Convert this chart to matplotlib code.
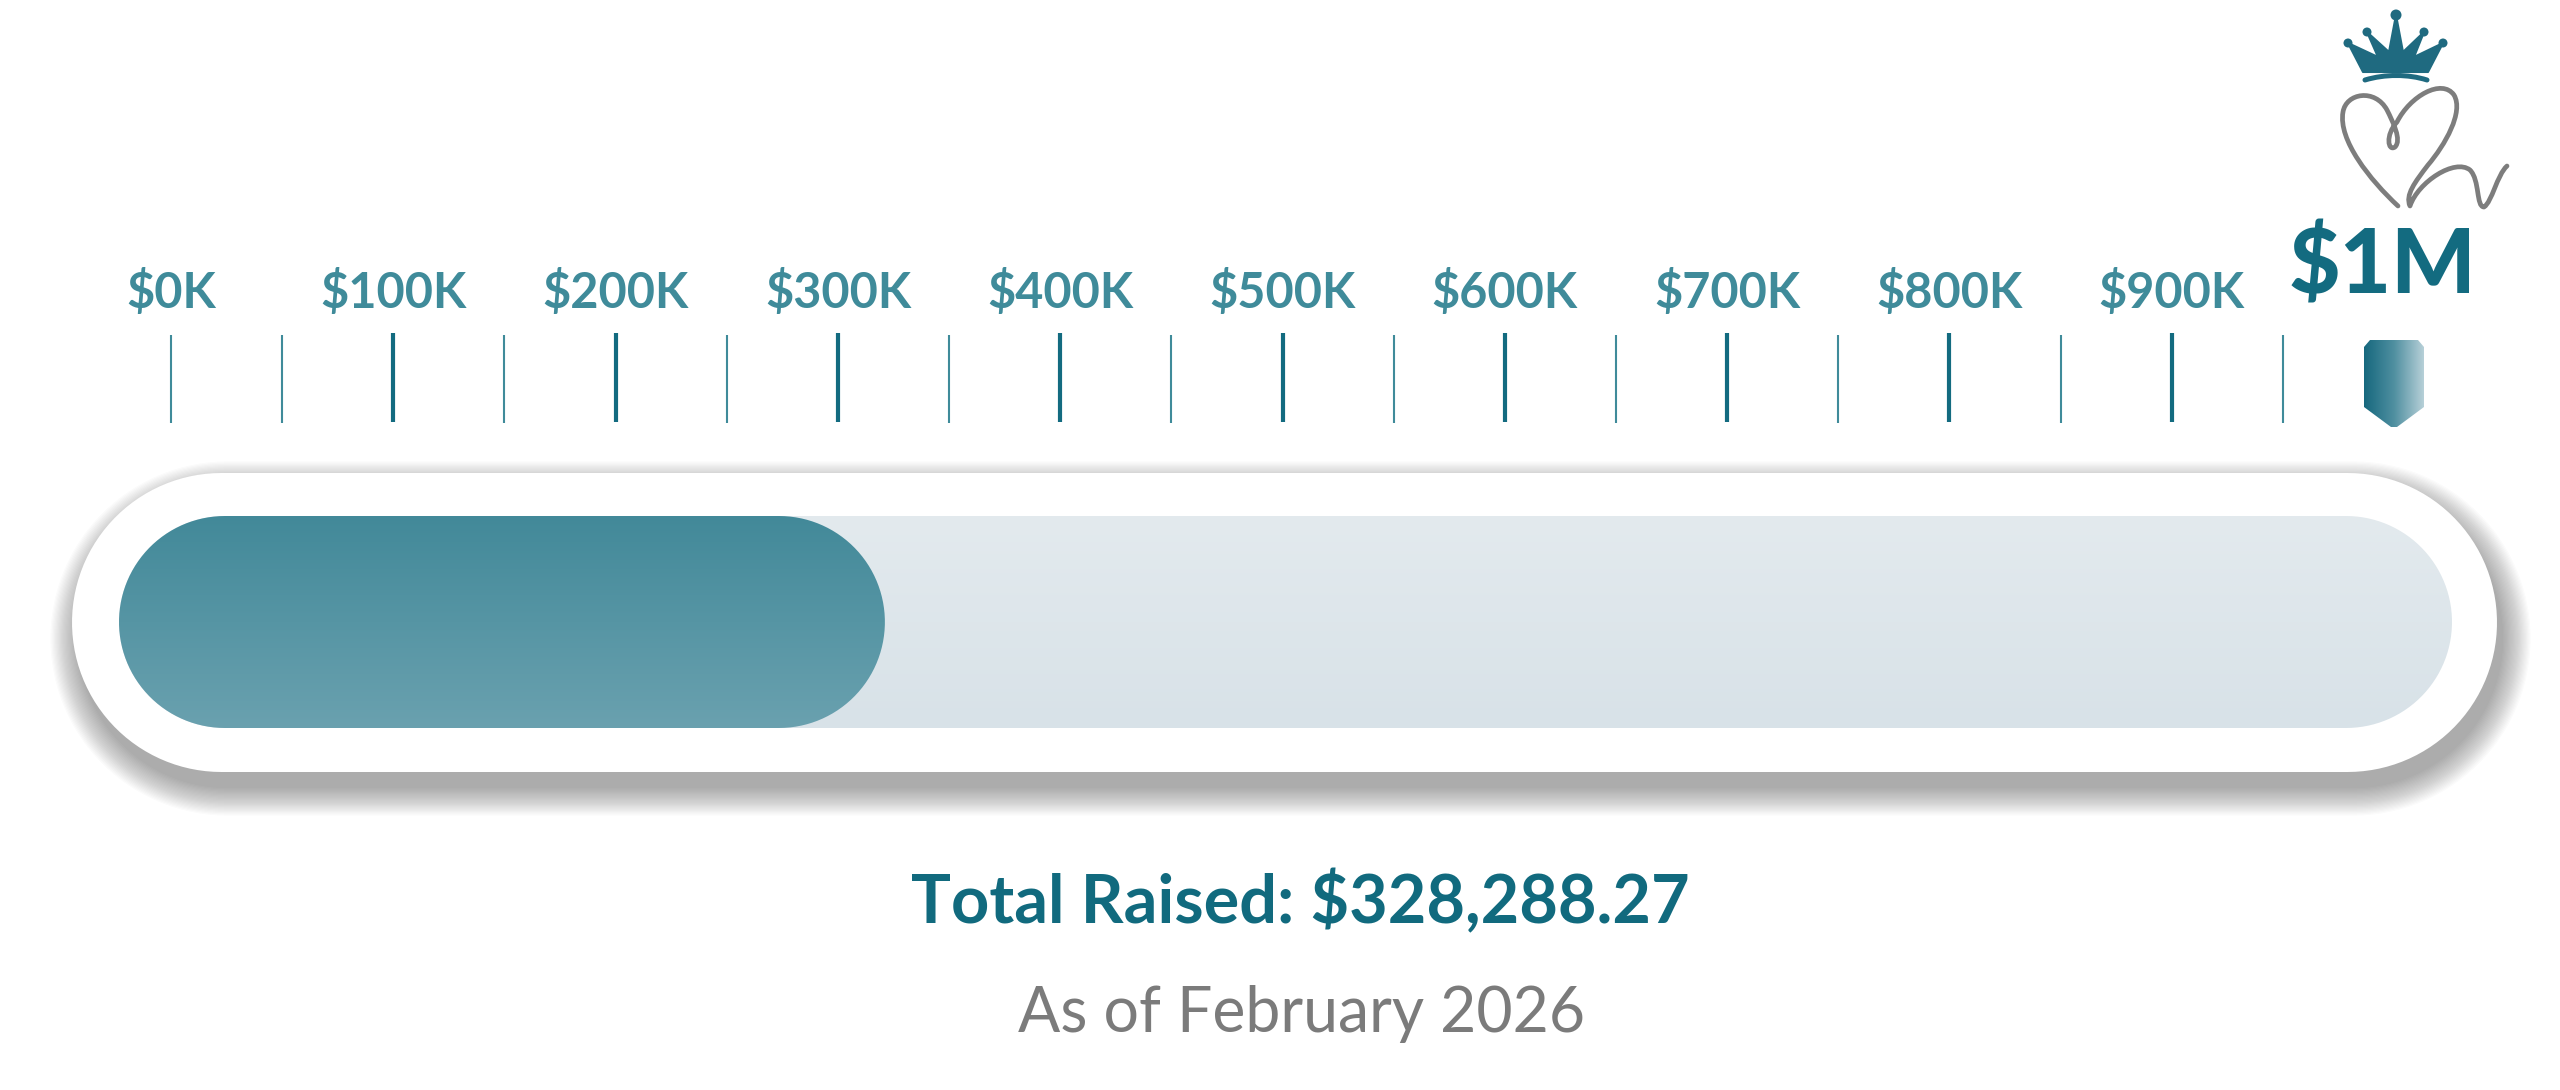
import numpy as np
import matplotlib
matplotlib.use("Agg")
import matplotlib.pyplot as plt
from matplotlib.patches import Polygon, PathPatch, Circle
from matplotlib.path import Path
from matplotlib.colors import LinearSegmentedColormap

# data
goal = 1_000_000
total_raised = 328288.27
label_values = [0, 100_000, 200_000, 300_000, 400_000, 500_000, 600_000, 700_000, 800_000, 900_000]
tick_labels = ["$0K", "$100K", "$200K", "$300K", "$400K", "$500K", "$600K", "$700K", "$800K", "$900K"]
major_ticks = [100_000, 200_000, 300_000, 400_000, 500_000, 600_000, 700_000, 800_000, 900_000]
minor_ticks = [0, 50_000, 150_000, 250_000, 350_000, 450_000, 550_000, 650_000, 750_000, 850_000, 950_000]
goal_label = "$1M"
title = "Total Raised: $328,288.27"
subtitle = "As of February 2026"

# colours
TEAL_DARK = "#136b80"
TEAL_LIGHT = "#3f8b9a"
GREY = "#7b7b7b"

W, H = 2560, 1090
plt.rcParams['font.family'] = ['Lato', 'DejaVu Sans']

fig = plt.figure(figsize=(W / 100, H / 100), dpi=100)


def px_axes(x0, y0, x1, y1):
    # axes placed by pixel box (top-left origin)
    a = fig.add_axes([x0 / W, 1 - y1 / H, (x1 - x0) / W, (y1 - y0) / H])
    a.axis("off")
    return a


def pill(x0, x1, yc, rx, ry, n=60):
    t = np.linspace(-np.pi / 2, np.pi / 2, n)
    right = np.column_stack([x1 - rx + rx * np.cos(t), yc + ry * np.sin(t)])
    t2 = np.linspace(np.pi / 2, 3 * np.pi / 2, n)
    left = np.column_stack([x0 + rx + rx * np.cos(t2), yc + ry * np.sin(t2)])
    return np.vstack([right, left])


# background layer in pixel coordinates
ax_bg = fig.add_axes([0, 0, 1, 1])
ax_bg.set_xlim(0, W)
ax_bg.set_ylim(H, 0)
ax_bg.axis("off")

# soft shadow + white outer capsule
ox0, ox1, oy0, oy1 = 72, 2497, 473, 772
oyc, orr = (oy0 + oy1) / 2, (oy1 - oy0) / 2
for i in range(24):
    e = i * 1.2
    ax_bg.add_patch(Polygon(pill(ox0 - e + 6, ox1 + e + 6, oyc + 16, orr + e, orr + e),
                            closed=True, facecolor="#3a3a3a", edgecolor="none", alpha=0.018))
ax_bg.add_patch(Polygon(pill(ox0, ox1, oyc, orr, orr), closed=True, facecolor="white",
                        edgecolor="none"))

# crown
crown_pts = [(2363, 72), (2348, 43), (2378, 57), (2367, 32), (2389, 52), (2396, 15),
             (2403, 52), (2424, 32), (2414, 57), (2443, 43), (2428, 72)]
ax_bg.add_patch(Polygon(crown_pts, closed=True, facecolor="#1f6a80", edgecolor="#1f6a80",
                        lw=1.5, joinstyle="round"))
for (cx, cy, r) in [(2348, 43, 4.5), (2367, 32, 4.5), (2396, 15, 5.5), (2424, 32, 4.5), (2443, 43, 4.5)]:
    ax_bg.add_patch(Circle((cx, cy), r, facecolor="#1f6a80", edgecolor="none"))
band = Path([(2365, 80), (2385, 74), (2408, 74), (2427, 80)],
            [Path.MOVETO, Path.CURVE4, Path.CURVE4, Path.CURVE4])
ax_bg.add_patch(PathPatch(band, facecolor="none", edgecolor="#1f6a80", lw=3.6, capstyle="round"))

# heart scribble
heart_verts = [
    (2398, 206),
    (2370, 180), (2338, 140), (2343, 112),
    (2346, 93), (2375, 88), (2387, 110),
    (2393, 122), (2402, 140), (2395, 147),
    (2388, 152), (2385, 135), (2397, 122),
    (2410, 96), (2442, 78), (2454, 95),
    (2464, 112), (2445, 145), (2428, 165),
    (2415, 182), (2405, 195), (2410, 206),
    (2418, 182), (2455, 158), (2470, 170),
    (2480, 180), (2476, 207), (2484, 207),
    (2492, 202), (2497, 175), (2507, 166),
]
heart = Path(heart_verts, [Path.MOVETO] + [Path.CURVE4] * 30)
ax_bg.add_patch(PathPatch(heart, facecolor="none", edgecolor="#7d7d7d", lw=3.4,
                          capstyle="round", joinstyle="round"))

# scale row: ticks, labels and goal marker ($0 at x=171 px, $1M at x=2394 px)
usd_per_px = goal / (2394 - 171)
ax_t = px_axes(100, 230, 2500, 440)
ax_t.set_xlim(-(171 - 100) * usd_per_px, goal + (2500 - 2394) * usd_per_px)
ax_t.set_ylim(440, 230)
xlim_t = ax_t.get_xlim()
ax_t.vlines(minor_ticks, 335, 423, color=TEAL_LIGHT, lw=1.5)
ax_t.vlines(major_ticks, 333, 422, color=TEAL_DARK, lw=3.0)
for v, lab in zip(label_values, tick_labels):
    ax_t.text(v, 308, lab, ha="center", va="baseline", fontsize=35, fontweight="bold",
              color=TEAL_LIGHT, clip_on=False)
ax_t.text(goal - 5_000, 293, goal_label, ha="center", va="baseline", fontsize=64,
          fontweight="black", color=TEAL_DARK, clip_on=False)

sx = lambda d: goal + d * usd_per_px
shield = [(sx(-30), 347), (sx(-24), 340), (sx(24), 340), (sx(30), 347),
          (sx(30), 407), (sx(3), 427), (sx(-3), 427), (sx(-30), 407)]
shield_patch = Polygon(shield, closed=True, facecolor="none", edgecolor="none")
ax_t.add_patch(shield_patch)
shield_cmap = LinearSegmentedColormap.from_list("sh", ["#16687e", "#4f8fa0", "#b7d0d8"])
im = ax_t.imshow(np.linspace(0, 1, 256).reshape(1, -1), cmap=shield_cmap, aspect="auto",
                 extent=[sx(-30), sx(30), 427, 340], interpolation="bilinear", zorder=3)
im.set_clip_path(shield_patch)
ax_t.set_xlim(*xlim_t)
ax_t.set_ylim(440, 230)

# progress bar, x axis in dollars
tx0, tx1, ty0, ty1 = 119, 2452, 516, 728
ax_bar = px_axes(tx0, ty0, tx1, ty1)
ax_bar.set_xlim(0, goal)
ax_bar.set_ylim(0, 1)
rx = (ty1 - ty0) / 2 * goal / (tx1 - tx0)

track_patch = Polygon(pill(0, goal, 0.5, rx, 0.5), closed=True, facecolor="none", edgecolor="none")
ax_bar.add_patch(track_patch)
track_cmap = LinearSegmentedColormap.from_list("tr", ["#d8e2e8", "#e3eaee"])
im_t = ax_bar.imshow(np.linspace(0, 1, 256).reshape(-1, 1), cmap=track_cmap, aspect="auto",
                     origin="lower", extent=[0, goal, 0, 1], interpolation="bilinear")
im_t.set_clip_path(track_patch)

fill_patch = Polygon(pill(0, total_raised, 0.5, rx, 0.5), closed=True, facecolor="none",
                     edgecolor="none")
ax_bar.add_patch(fill_patch)
fill_cmap = LinearSegmentedColormap.from_list("fl", ["#6aa1af", "#428999"])
im_f = ax_bar.imshow(np.linspace(0, 1, 256).reshape(-1, 1), cmap=fill_cmap, aspect="auto",
                     origin="lower", extent=[0, total_raised, 0, 1], interpolation="bilinear")
im_f.set_clip_path(fill_patch)
ax_bar.set_xlim(0, goal)
ax_bar.set_ylim(0, 1)

# captions
ax_bg.text(1300, 923, title, ha="center", va="baseline", fontsize=48, fontweight="bold",
           color="#116a7e")
ax_bg.text(1302, 1032, subtitle, ha="center", va="baseline", fontsize=45, fontweight="normal",
           color=GREY)

fig.savefig("out.png", dpi=100, facecolor="white")
